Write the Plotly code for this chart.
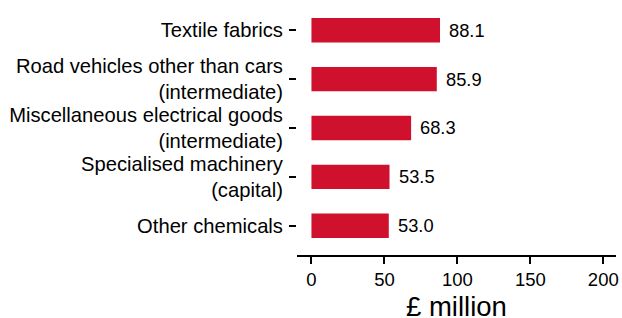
import plotly.graph_objects as go

categories = [
    "Textile fabrics",
    "Road vehicles other than cars<br>(intermediate)",
    "Miscellaneous electrical goods<br>(intermediate)",
    "Specialised machinery<br>(capital)",
    "Other chemicals",
]
values = [88.1, 85.9, 68.3, 53.5, 53.0]
value_labels = ["88.1", "85.9", "68.3", "53.5", "53.0"]
x_ticks = [0, 50, 100, 150, 200]
x_title = "£ million"

FONT = "Liberation Sans, Arial, sans-serif"

fig = go.Figure()
fig.add_trace(go.Bar(
    x=values, y=categories, orientation="h",
    marker=dict(color="#D0112D", line=dict(width=0)),
    width=0.5, hoverinfo="skip",
))
for v, c, t in zip(values, categories, value_labels):
    fig.add_annotation(x=v, y=c, text=t, showarrow=False, xanchor="left",
                       xshift=7, font=dict(size=18.3, color="black", family=FONT))

fig.add_annotation(x=0.5, y=0, xref="paper", yref="paper", text=x_title,
                   showarrow=False, xanchor="center", yanchor="top", yshift=-34,
                   font=dict(size=27.5, color="black", family=FONT))

fig.update_layout(
    width=622, height=318,
    margin=dict(l=297, r=6, t=0, b=63),
    plot_bgcolor="white", paper_bgcolor="white",
    showlegend=False,
    font=dict(family=FONT, size=18, color="black"),
    xaxis=dict(
        range=[-9.9, 208.7], tickvals=x_ticks, ticktext=[str(v) for v in x_ticks],
        showgrid=False, zeroline=False, showline=True, linecolor="black", linewidth=2,
        ticks="outside", ticklen=7, tickwidth=2, tickcolor="black",
        tickfont=dict(size=18.5, family=FONT), automargin=False,
    ),
    yaxis=dict(
        range=[4.6, -0.62], showgrid=False, zeroline=False, showline=False,
        ticks="outside", ticklen=7, tickwidth=2, tickcolor="black",
        tickfont=dict(size=20.2, family=FONT), automargin=False,
        ticklabelstandoff=2,
    ),
)
fig.write_html("out.html", config={"displayModeBar": False},
               post_script="document.body.style.margin='0px';document.body.style.overflow='hidden';")
